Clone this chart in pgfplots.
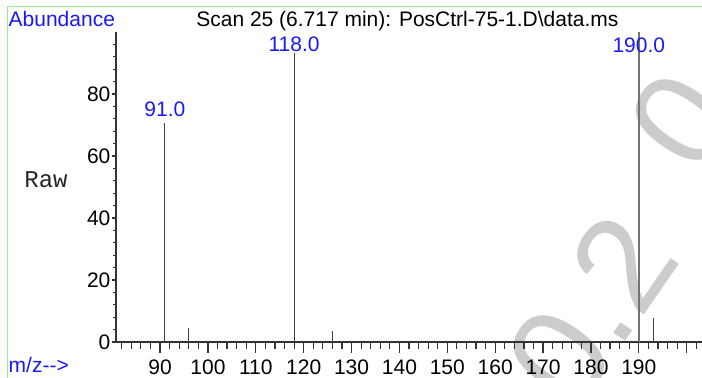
\documentclass[border=0pt]{standalone}
\usepackage{pgfplots}
\pgfplotsset{compat=1.18}
\usepackage{fontspec}
\setmainfont{Liberation Sans}
\newfontfamily\monofont{Liberation Mono}
\definecolor{lbl}{RGB}{25,25,245}
\definecolor{wm}{RGB}{204,204,204}
\definecolor{frame}{RGB}{150,235,150}

\begin{document}
\begin{tikzpicture}
\useasboundingbox (0pt,0pt) rectangle (351pt,189pt);
\draw[frame, line width=0.5pt] (3.7pt,0pt) -- (3.7pt,185.5pt) -- (351pt,185.5pt);
\node[wm, rotate=55.4, anchor=base west, inner sep=0pt, font=\fontsize{67.5}{70}\selectfont] at (288pt,-17.8pt) {0.2};
\node[wm, rotate=55.4, anchor=base west, inner sep=0pt, font=\fontsize{67.5}{70}\selectfont] at (349pt,100pt) {0};
\begin{axis}[
  at={(58pt,18pt)}, anchor=south west,
  scale only axis, width=293pt, height=155pt,
  xmin=80.8, xmax=203.2, ymin=0, ymax=100,
  enlargelimits=false,
  axis x line=bottom, axis y line=left,
  axis line style={-, black!80, line width=0.6pt},
  clip=false,
  tick align=outside,
  xtick={90,100,...,200},
  xticklabels={90,100,110,120,130,140,150,160,170,180,190,{}},
  minor xtick={82,84,86,88,92,94,96,98,102,104,106,108,112,114,116,118,122,124,126,128,132,134,136,138,142,144,146,148,152,154,156,158,162,164,166,168,172,174,176,178,182,184,186,188,192,194,196,198,202},
  ytick={0,20,40,60,80},
  minor ytick={4,8,12,16,24,28,32,36,44,48,52,56,64,68,72,76,84,88,92,96},
  x tick style={black!80, line width=0.6pt, /pgfplots/major tick length=5.3pt, /pgfplots/minor tick length=3.3pt},
  y tick style={black!80, line width=0.6pt, /pgfplots/major tick length=2pt, /pgfplots/minor tick length=1.3pt},
  tick label style={font=\fontsize{10.5}{12}\selectfont},
  xticklabel style={yshift=-1pt},
  yticklabel shift=-5pt,
  /pgf/number format/assume math mode=true,
]
\addplot[ycomb, draw=black!75, line width=0.5pt, mark=none] coordinates {(91,70.8) (96,4.6) (118,93.1) (126,3.6) (193,7.6)};
\addplot[ycomb, draw=black!55, line width=0.8pt, mark=none] coordinates {(190,100)};
\node[lbl, anchor=base, inner sep=0pt, font=\fontsize{10.5}{12}\selectfont] at (axis cs:91,72.6) {91.0};
\node[lbl, anchor=base, inner sep=0pt, font=\fontsize{10.5}{12}\selectfont] at (axis cs:118,93.8) {118.0};
\node[lbl, anchor=base, inner sep=0pt, font=\fontsize{10.5}{12}\selectfont] at (axis cs:190,93.5) {190.0};
\end{axis}
\node[anchor=base, inner sep=0pt, font=\fontsize{10.5}{12}\selectfont] at (203.7pt,175.6pt) {Scan 25 (6.717 min): PosCtrl-75-1.D\textbackslash data.ms};
\node[lbl, anchor=base west, inner sep=0pt, font=\fontsize{10.5}{12}\selectfont] at (4.15pt,175.6pt) {Abundance};
\node[black!85, anchor=base west, inner sep=0pt, font=\monofont\fontsize{12}{14}\selectfont] at (12pt,95.2pt) {Raw};
\node[lbl, anchor=base west, inner sep=0pt, font=\fontsize{10.5}{12}\selectfont] at (4.15pt,2.5pt) {m/z{-}{-}>};
\end{tikzpicture}
\end{document}
